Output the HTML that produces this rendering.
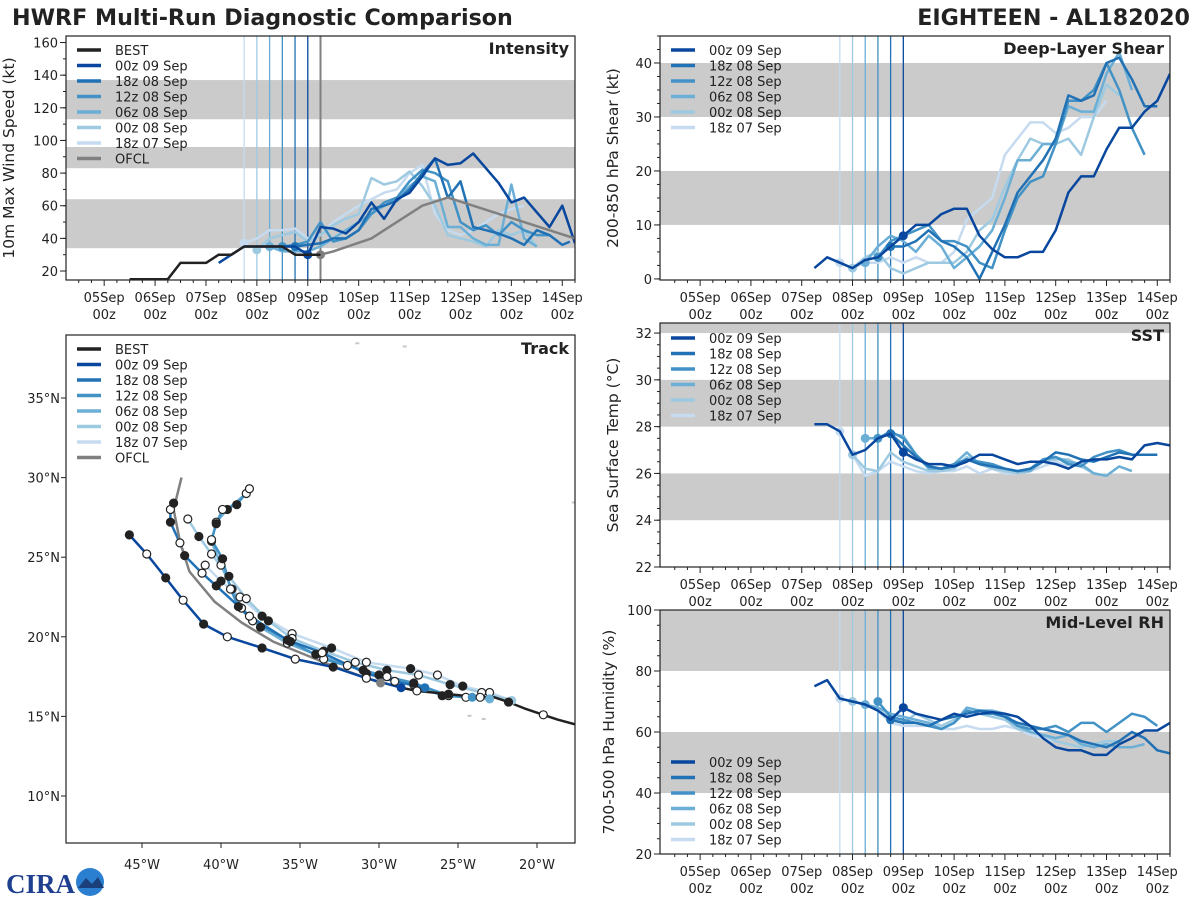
<!DOCTYPE html>
<html><head><meta charset="utf-8">
<style>
html,body{margin:0;padding:0;background:#fff;}
svg{display:block;font-family:"DejaVu Sans","Liberation Sans",sans-serif;}
</style></head>
<body>
<svg id="fig" width="1200" height="900" viewBox="0 0 1200 900">
<text x="12" y="25" font-size="22.2" font-weight="bold" fill="#222">HWRF Multi-Run Diagnostic Comparison</text>
<text x="1190" y="25" font-size="22.2" font-weight="bold" fill="#222" text-anchor="end">EIGHTEEN - AL182020</text>
<g>
<text x="6" y="893" font-size="27" font-weight="bold" fill="#1f3f8f" font-family="Liberation Serif, serif">CIRA</text>
<circle cx="90" cy="882" r="14" fill="#2a7fd0"/>
<path d="M78 888 L86 878 L92 884 L98 877 L104 888 Z" fill="#1a3f7a"/>
</g>
</svg>
<script>
const runNames = ["00z 09 Sep","18z 08 Sep","12z 08 Sep","06z 08 Sep","00z 08 Sep","18z 07 Sep"];
const runColors = ["#08479d","#2171b5","#4292c6","#6baed6","#9ecae1","#c6dbef"];
const runInit = [4.0,3.75,3.5,3.25,3.0,2.75];
const dayLabels = ["05Sep","06Sep","07Sep","08Sep","09Sep","10Sep","11Sep","12Sep","13Sep","14Sep"];

// Intensity (kt) — [day since 05Sep00z, value]
const bestInt = [[0.5,15],[1.25,15],[1.5,25],[2.0,25],[2.25,30],[2.5,30],[2.75,35],[3,35],[3.25,35],[3.5,35],[3.75,30],[4,30],[4.25,30]];
const ofclInt = [[4.25,30],[4.5,32],[5.25,40],[6.25,60],[6.75,65],[9.25,40]];
const int00z09 = [[2.25,25],[2.5,30],[2.75,35],[3,35],[3.25,35],[3.5,35],[3.75,35],[4,30],[4.25,47],[4.5,46],[4.75,43],[5,50],[5.25,62],[5.5,52],[5.75,64],[6,68],[6.25,78],[6.5,89],[6.75,85],[7,86],[7.25,92],[7.5,83],[7.75,74],[8,62],[8.25,65],[8.5,56],[8.75,47],[9,60],[9.25,37]];
const int18z08 = [[3.75,35],[4,36],[4.25,37],[4.5,40],[4.75,40],[5,45],[5.25,58],[5.5,60],[5.75,63],[6,70],[6.25,80],[6.5,89],[6.75,65],[7,75],[7.25,47],[7.5,45],[7.75,43],[8,40],[8.25,36],[8.5,45],[8.75,42],[9,36],[9.15,38]];
const int12z08 = [[3.5,35],[3.75,36],[4,38],[4.25,50],[4.5,38],[4.75,40],[5,45],[5.25,55],[5.5,62],[5.75,65],[6,75],[6.25,82],[6.5,80],[6.75,75],[7,50],[7.25,45],[7.5,48],[7.75,42],[8,50],[8.25,45],[8.5,42],[8.75,42]];
const int06z08 = [[3.25,35],[3.5,32],[3.75,32],[4,32],[4.25,35],[4.5,40],[4.75,45],[5,50],[5.25,55],[5.5,60],[5.75,64],[6,72],[6.25,78],[6.5,75],[6.75,47],[7,47],[7.25,40],[7.5,36],[7.75,36],[8,73],[8.25,40],[8.5,35]];
const int00z08 = [[3,33],[3.25,40],[3.5,42],[3.75,44],[4,38],[4.25,42],[4.5,48],[4.75,52],[5,55],[5.25,77],[5.5,73],[5.75,75],[6,81],[6.25,72],[6.5,60],[6.75,42],[7,40],[7.25,38],[7.5,35],[7.75,45],[8,42],[8.25,45],[8.5,35]];
const int18z07 = [[2.75,37],[3,40],[3.25,45],[3.5,45],[3.75,46],[4,40],[4.25,42],[4.5,50],[4.75,55],[5,60],[5.25,64],[5.5,68],[5.75,70],[6,80],[6.25,85],[6.5,55],[6.75,45],[7,42],[7.25,45],[7.5,50],[7.75,55],[8,58],[8.25,60]];

// Shear (kt)
const shr00z09 = [[2.25,2],[2.5,4],[2.75,3],[3,2],[3.25,3.5],[3.5,4],[3.75,6],[4,8],[4.25,10],[4.5,10],[4.75,12],[5,13],[5.25,13],[5.5,8],[5.75,5.5],[6,4],[6.25,4],[6.5,5],[6.75,5],[7,9],[7.25,16],[7.5,19],[7.75,19],[8,24],[8.25,28],[8.5,28],[8.75,31],[9,33],[9.25,38]];
const shr18z08 = [[3.75,6],[4,6],[4.25,7],[4.5,9],[4.75,7],[5,6],[5.25,4],[5.5,0],[5.75,5],[6,10],[6.25,16],[6.5,19],[6.75,22],[7,26],[7.25,34],[7.5,33],[7.75,34],[8,40],[8.25,41],[8.5,37],[8.75,32],[9,32]];
const shr12z08 = [[3.5,4],[3.75,7],[4,8],[4.25,9],[4.5,10],[4.75,7],[5,7],[5.25,6],[5.5,3],[5.75,2],[6,9],[6.25,15],[6.5,18],[6.75,19],[7,25],[7.25,33],[7.5,33],[7.75,35],[8,40],[8.25,35],[8.5,28],[8.75,23]];
const shr06z08 = [[3.25,3],[3.5,6],[3.75,8],[4,7],[4.25,5],[4.5,8],[4.75,6],[5,2],[5.25,4],[5.5,6],[5.75,9],[6,15],[6.25,22],[6.5,22],[6.75,25],[7,25],[7.25,32],[7.5,31],[7.75,31],[8,38],[8.25,42],[8.5,35]];
const shr00z08 = [[3,2],[3.25,4],[3.5,5],[3.75,2],[4,1],[4.25,2],[4.5,3],[4.75,3],[5,3],[5.25,5],[5.5,9],[5.75,11],[6,17],[6.25,22],[6.5,26],[6.75,25],[7,25],[7.25,26],[7.5,23],[7.75,30],[8,36],[8.25,34]];
const shr18z07 = [[2.75,3],[3,2],[3.25,3],[3.5,3],[3.75,4],[4,3],[4.25,4],[4.5,3],[4.75,3],[5,5],[5.25,11],[5.5,13],[5.75,15],[6,23],[6.25,26],[6.5,29],[6.75,29],[7,27],[7.25,28],[7.5,30],[7.75,30],[8,33]];

// SST (C)
const sst00z09 = [[2.25,28.1],[2.5,28.1],[2.75,27.8],[3,26.8],[3.25,27],[3.5,27.5],[3.75,27.7],[4,26.9],[4.25,26.6],[4.5,26.4],[4.75,26.4],[5,26.3],[5.25,26.5],[5.5,26.8],[5.75,26.8],[6,26.6],[6.25,26.4],[6.5,26.5],[6.75,26.5],[7,26.4],[7.25,26.2],[7.5,26.5],[7.75,26.6],[8,26.6],[8.25,26.7],[8.5,26.6],[8.75,27.2],[9,27.3],[9.25,27.2]];
const sst18z08 = [[3.75,27.7],[4,27.2],[4.25,26.7],[4.5,26.3],[4.75,26.2],[5,26.3],[5.25,26.6],[5.5,26.4],[5.75,26.3],[6,26.2],[6.25,26.1],[6.5,26.2],[6.75,26.5],[7,26.9],[7.25,26.8],[7.5,26.6],[7.75,26.5],[8,26.7],[8.25,26.9],[8.5,26.8],[8.75,26.8],[9,26.8]];
const sst12z08 = [[3.5,27.5],[3.75,27.8],[4,27.5],[4.25,26.8],[4.5,26.3],[4.75,26.2],[5,26.4],[5.25,26.6],[5.5,26.5],[5.75,26.4],[6,26.2],[6.25,26.1],[6.5,26.2],[6.75,26.6],[7,26.7],[7.25,26.4],[7.5,26.3],[7.75,26.7],[8,26.9],[8.25,27],[8.5,26.8]];
const sst06z08 = [[3.25,27.5],[3.5,27.5],[3.75,27.7],[4,27.6],[4.25,26.8],[4.5,26.2],[4.75,26.2],[5,26.4],[5.25,26.9],[5.5,26.4],[5.75,26.3],[6,26.2],[6.25,26.1],[6.5,26.1],[6.75,26.6],[7,26.7],[7.25,26.5],[7.5,26.4],[7.75,26],[8,25.9],[8.25,26.3],[8.5,26.1]];
const sst00z08 = [[3,26.8],[3.25,26.2],[3.5,26.1],[3.75,26.9],[4,26.5],[4.25,26.3],[4.5,26.1],[4.75,26.1],[5,26.2],[5.25,26.7],[5.5,26.4],[5.75,26.2],[6,26.1],[6.25,26],[6.5,26.1],[6.75,26.5],[7,26.6],[7.25,26.6],[7.5,26.3],[7.75,26],[8,25.9]];
const sst18z07 = [[2.75,27.8],[3,26.8],[3.25,25.9],[3.5,26.1],[3.75,26.5],[4,26.3],[4.25,26.1],[4.5,26],[4.75,26.1],[5,26.1],[5.25,26.3],[5.5,26],[5.75,26.2],[6,26],[6.25,26],[6.5,26.1],[6.75,26.3],[7,26.5],[7.25,26.3]];

// Mid-level RH (%)
const rh00z09 = [[2.25,75],[2.5,77],[2.75,71],[3,70],[3.25,69],[3.5,67],[3.75,64],[4,68],[4.25,66],[4.5,65],[4.75,64],[5,66],[5.25,65],[5.5,66],[5.75,66.5],[6,66],[6.25,65],[6.5,62],[6.75,58],[7,55],[7.25,54],[7.5,54],[7.75,52.5],[8,52.5],[8.25,56],[8.5,58],[8.75,60.5],[9,60.5],[9.25,63]];
const rh18z08 = [[3.75,64],[4,63],[4.25,63],[4.5,62],[4.75,64],[5,65],[5.25,66],[5.5,67],[5.75,66.5],[6,65],[6.25,63],[6.5,62],[6.75,61],[7,60],[7.25,59],[7.5,57],[7.75,56],[8,55],[8.25,57],[8.5,60],[8.75,58],[9,54],[9.25,53]];
const rh12z08 = [[3.5,70],[3.75,65],[4,64],[4.25,63],[4.5,62],[4.75,61],[5,63],[5.25,67],[5.5,66],[5.75,66],[6,65],[6.25,62],[6.5,61],[6.75,61],[7,62],[7.25,60],[7.5,63],[7.75,63],[8,60],[8.25,63],[8.5,66],[8.75,65],[9,62]];
const rh06z08 = [[3.25,69],[3.5,68],[3.75,66],[4,65],[4.25,64],[4.5,63],[4.75,61],[5,63],[5.25,68],[5.5,67],[5.75,67],[6,66],[6.25,62],[6.5,60],[6.75,59],[7,58],[7.25,59],[7.5,56],[7.75,55],[8,56],[8.25,55],[8.5,55],[8.75,56]];
const rh00z08 = [[3,70],[3.25,69],[3.5,67],[3.75,65],[4,63],[4.25,66],[4.5,64],[4.75,62],[5,64],[5.25,67],[5.5,66],[5.75,65],[6,64],[6.25,61],[6.5,60],[6.75,59],[7,57],[7.25,56],[7.5,55],[7.75,56],[8,57],[8.25,57]];
const rh18z07 = [[2.75,71],[3,70],[3.25,69],[3.5,67],[3.75,63],[4,62],[4.25,62],[4.5,62],[4.75,61],[5,61],[5.25,62],[5.5,61],[5.75,61],[6,62],[6.25,61],[6.5,59],[6.75,58],[7,57],[7.25,56],[7.5,55],[7.75,56]];

// Tracks [lon, lat]
const trkBest = [[-17.2,14.4],[-18.7,14.8],[-19.6,15.1],[-20.8,15.5],[-21.8,15.9],[-22.7,16.2],[-23.6,16.2],[-24.6,16.3],[-25.6,16.4],[-26.6,16.5],[-27.6,16.6],[-28.6,16.8]];
const trk00z09 = [[-28.6,16.8],[-30.8,17.4],[-32.9,18.1],[-35.3,18.6],[-37.4,19.3],[-39.6,20],[-41.1,20.8],[-42.4,22.3],[-43.5,23.7],[-44.7,25.2],[-45.8,26.4]];
const trk18z08 = [[-27.1,16.8],[-29,17.2],[-30.8,17.7],[-33.6,19],[-35.8,19.8],[-38.2,21.3],[-40.3,23.2],[-41.2,24],[-42.3,25.1],[-42.6,25.9],[-43.2,27.2],[-43.2,28],[-43,28.4]];
const trk12z08 = [[-24.1,16.2],[-25.6,16.3],[-27.8,17.1],[-29.5,17.5],[-31,17.9],[-33.5,18.6],[-35.6,19.7],[-38,21],[-38.9,21.9],[-39.4,23],[-39.9,24.9],[-40.6,26.1],[-40.3,27.1],[-39.9,28],[-39,28.3],[-38.2,29.3]];
const trk06z08 = [[-23,16.1],[-24.5,16.2],[-26,16.3],[-27.8,17.0],[-30,17.6],[-32,18.2],[-34,18.9],[-35.8,19.6],[-37.5,20.6],[-38.7,21.8],[-39.3,23],[-40,24.5],[-40.6,26],[-40.3,27.2],[-39.6,28],[-38.4,29]];
const trk00z08 = [[-21.6,16],[-23.5,16.5],[-25.5,17],[-27.5,17.6],[-29.5,17.9],[-31.5,18.4],[-33.5,19.1],[-35.5,19.9],[-37,21],[-38.4,22.4],[-39.5,23.8],[-40.6,25.2],[-41.4,26.3],[-42.1,27.4]];
const trk18z07 = [[-21.6,16],[-23,16.5],[-24.7,16.9],[-26.3,17.6],[-28,18],[-30.8,18.4],[-33,19.3],[-35.5,20.2],[-37.4,21.3],[-38.8,22.5],[-40,23.5],[-41,24.5]];
const trkOfcl = [[-29.9,17.1],[-33,18.2],[-36.7,19.7],[-38.7,20.9],[-40.4,22.2],[-42,24.1],[-42.6,26],[-43,28],[-42.5,30]];

const NS="http://www.w3.org/2000/svg";
const fig=document.getElementById('fig');
function el(tag,attrs,parent){const e=document.createElementNS(NS,tag);for(const k in attrs)e.setAttribute(k,attrs[k]);(parent||fig).appendChild(e);return e;}
function lin(d0,d1,r0,r1){return v=>r0+(v-d0)*(r1-r0)/(d1-d0);}
function txt(x,y,s,size,anchor,parent,extra){const t=el('text',Object.assign({x:x,y:y,'font-size':size,'text-anchor':anchor||'start',fill:'#222'},extra||{}),parent);t.textContent=s;return t;}

function timePanel(name,box,ydom,bands,yticks,yminor,ylabel,title,series,labOff,extraLines){
  const g=el('g',{});
  
  
  const X=lin(box.d0,box.d1,box.x0,box.x1), Y=lin(ydom[0],ydom[1],box.y1,box.y0);
  const clip=el('clipPath',{id:'clip-'+name},g);
  el('rect',{x:box.x0,y:box.y0,width:box.x1-box.x0,height:box.y1-box.y0},clip);
  bands.forEach(b=>{const r=el('rect',{x:box.x0,y:Y(Math.min(b[1],ydom[1])),width:box.x1-box.x0,height:Y(b[0])-Y(Math.min(b[1],ydom[1])),fill:'#cbcbcb'},g);
    
    });
  runInit.forEach((d,i)=>{el('line',{x1:X(d),x2:X(d),y1:box.y0,y2:box.y1,stroke:runColors[i],'stroke-width':1.3},g);});
  if(extraLines) extraLines(g,X,Y);
  const pg=el('g',{'clip-path':'url(#clip-'+name+')'},g);
  for(let i=series.length-1;i>=0;i--){
    const s=series[i];
    const p=el('polyline',{points:s.data.map(p=>X(p[0]).toFixed(1)+','+Y(p[1]).toFixed(1)).join(' '),fill:'none',stroke:s.color,'stroke-width':2.5,'stroke-linejoin':'round'},pg);
    
    
    if(s.dot!==undefined){const pt=s.data.find(q=>Math.abs(q[0]-s.dot)<0.01);if(pt)el('circle',{cx:X(pt[0]),cy:Y(pt[1]),r:4.5,fill:s.color},pg);}
  }
  el('rect',{x:box.x0,y:box.y0,width:box.x1-box.x0,height:box.y1-box.y0,fill:'none',stroke:'#222','stroke-width':1.2},g);
  for(let d=-0.5;d<=9.25;d+=0.25){const xx=X(d);if(xx<box.x0||xx>box.x1)continue;const maj=Math.abs(d-Math.round(d))<0.01;
    el('line',{x1:xx,x2:xx,y1:box.y1,y2:box.y1+(maj?6:3),stroke:'#222','stroke-width':1},g);}
  dayLabels.forEach((l,i)=>{const xx=X(i);const t1=txt(xx,box.y1+22,l,13,'middle',g);txt(xx,box.y1+39,'00z',13,'middle',g);});
  yticks.forEach(v=>{const yy=Y(v);el('line',{x1:box.x0-6,x2:box.x0,y1:yy,y2:yy,stroke:'#222'},g);const t=txt(box.x0-8,yy+5,String(v),13,'end',g);});
  for(let v=yminor[0];v<=ydom[1];v+=yminor[1]){if(v<ydom[0])continue;el('line',{x1:box.x0-3,x2:box.x0,y1:Y(v),y2:Y(v),stroke:'#222'},g);}
  const cy=(box.y0+box.y1)/2;const lx=box.x0-labOff;const yl=txt(lx,cy,ylabel,15.5,'middle',g,{transform:'rotate(-90 '+lx+' '+cy+')'});
  
  const tt=txt(box.x1-6,box.y0+18,title,16,'end',g,{'font-weight':'bold'});
  
  return {g,X,Y};
}
function legend(g,x,y,items){
  items.forEach((it,i)=>{const yy=y+i*15.5;
    const lg=el('g',{},g);
    
    
    el('line',{x1:x,x2:x+24,y1:yy,y2:yy,stroke:it[1],'stroke-width':3.5},lg);
    txt(x+38,yy+5,it[0],13,'start',lg);});
}
const runKeys=["00z09","18z08","12z08","06z08","00z08","18z07"];
function mkSeries(arrs){return arrs.map((a,i)=>({key:runKeys[i],data:a,color:runColors[i],dot:runInit[i]}));}

{const ser=mkSeries([int00z09,int18z08,int12z08,int06z08,int00z08,int18z07]);
 ser.unshift({key:'best',data:bestInt,color:'#222'});
 ser.push({key:'ofcl',data:ofclInt,color:'#808080',dot:4.25});
 const P=timePanel('intensity',{x0:66,x1:575,y0:36,y1:280,d0:-0.75,d1:9.25},[14.5,164],[[34,64],[83,96],[113,137]],[20,40,60,80,100,120,140,160],[20,10],'10m Max Wind Speed (kt)','Intensity',
  [ser[0],ser[7],ser[1],ser[2],ser[3],ser[4],ser[5],ser[6]],52,(g,X,Y)=>{el('line',{x1:X(4.25),x2:X(4.25),y1:36,y2:280,stroke:'#808080','stroke-width':2},g);});
 legend(P.g,77,50,[['BEST','#222']].concat(runNames.map((n,i)=>[n,runColors[i]])).concat([['OFCL','#808080']]));
}
{const P=timePanel('shear',{x0:660,x1:1170,y0:36,y1:280,d0:-0.79,d1:9.25},[-0.2,45],[[10,20],[30,40]],[0,10,20,30,40],[0,2.5],'200-850 hPa Shear (kt)','Deep-Layer Shear',mkSeries([shr00z09,shr18z08,shr12z08,shr06z08,shr00z08,shr18z07]),42);
 legend(P.g,671,50,runNames.map((n,i)=>[n,runColors[i]]));}
{const P=timePanel('sst',{x0:660,x1:1170,y0:323,y1:567,d0:-0.79,d1:9.25},[22,32.43],[[24,26],[28,30],[32,34]],[22,24,26,28,30,32],[22,0.5],'Sea Surface Temp (°C)','SST',mkSeries([sst00z09,sst18z08,sst12z08,sst06z08,sst00z08,sst18z07]),42);
 legend(P.g,671,338,runNames.map((n,i)=>[n,runColors[i]]));}
{const P=timePanel('rh',{x0:660,x1:1170,y0:610,y1:854,d0:-0.79,d1:9.25},[20,100],[[40,60],[80,100]],[20,40,60,80,100],[20,5],'700-500 hPa Humidity (%)','Mid-Level RH',mkSeries([rh00z09,rh18z08,rh12z08,rh06z08,rh00z08,rh18z07]),46);
 legend(P.g,671,762,runNames.map((n,i)=>[n,runColors[i]]));}

{const g=el('g',{});
 
 
 const box={x0:66,x1:575,y0:335,y1:843};
 const X=lin(-45,-20,142,537), Y=lin(35,10,398,796);
 const clip=el('clipPath',{id:'clip-track'},g);
 el('rect',{x:box.x0,y:box.y0,width:box.x1-box.x0,height:box.y1-box.y0},clip);
 const pg=el('g',{'clip-path':'url(#clip-track)'},g);
 [[-31.5,38.5],[-28.5,38.3],[-17.8,28.5],[-15.9,28.1],[-23.5,14.9],[-24.4,15.1],[-25,16.9]].forEach(p=>el('rect',{x:X(p[0]),y:Y(p[1]),width:4,height:2,fill:'#c8c8c8'},pg));
 const tracks=[[trk18z07,runColors[5],'18z07'],[trk00z08,runColors[4],'00z08'],[trk06z08,runColors[3],'06z08'],[trk12z08,runColors[2],'12z08'],[trk18z08,runColors[1],'18z08'],[trkOfcl,'#808080','ofcl'],[trk00z09,runColors[0],'00z09'],[trkBest,'#222','best']];
 tracks.forEach(t=>{const p=el('polyline',{points:t[0].map(q=>X(q[0]).toFixed(1)+','+Y(q[1]).toFixed(1)).join(' '),fill:'none',stroke:t[1],'stroke-width':2.5,'stroke-linejoin':'round'},pg);
   
   });
 tracks.forEach(t=>{if(t[2]==='ofcl')return;
   t[0].forEach((q,i)=>{if(i===0)return;if(t[2]==='best'&&i%2)return;
     const filled=(t[2]==='best')?(i%4===0):(i%2===0);
     el('circle',{cx:X(q[0]),cy:Y(q[1]),r:4,fill:filled?'#222':'#fff',stroke:'#222','stroke-width':1.2},pg);});
   if(t[2]!=='best'){const q=t[0][0];el('circle',{cx:X(q[0]),cy:Y(q[1]),r:4.5,fill:t[1]},pg);}});
 el('circle',{cx:X(trkOfcl[0][0]),cy:Y(trkOfcl[0][1]),r:4.5,fill:'#808080'},pg);
 el('rect',{x:box.x0,y:box.y0,width:box.x1-box.x0,height:box.y1-box.y0,fill:'none',stroke:'#222','stroke-width':1.2},g);
 [10,15,20,25,30,35].forEach(v=>{const yy=Y(v);el('line',{x1:box.x0-5,x2:box.x0,y1:yy,y2:yy,stroke:'#222'},g);const t=txt(box.x0-6,yy+5,v+'°N',13,'end',g);});
 [-45,-40,-35,-30,-25,-20].forEach(v=>{const xx=X(v);el('line',{x1:xx,x2:xx,y1:box.y1,y2:box.y1+5,stroke:'#222'},g);const t=txt(xx,box.y1+26,(-v)+'°W',13,'middle',g);});
 const tt=txt(box.x1-6,box.y0+19,'Track',16,'end',g,{'font-weight':'bold'});
 
 legend(g,77,349,[['BEST','#222']].concat(runNames.map((n,i)=>[n,runColors[i]])).concat([['OFCL','#808080']]));
}
</script>
</body></html>
